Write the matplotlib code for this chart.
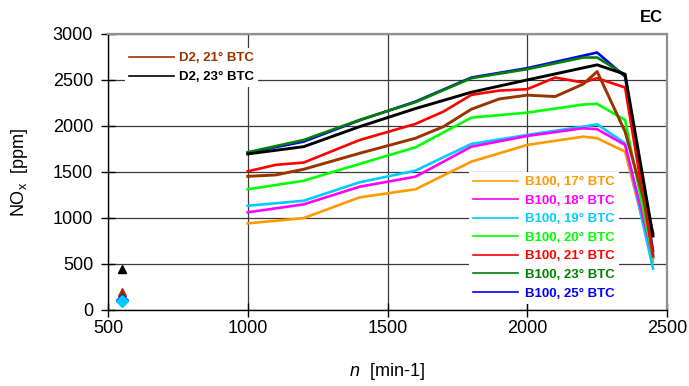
import matplotlib
matplotlib.use('Agg')
import matplotlib.pyplot as plt
from matplotlib.lines import Line2D

plt.rcParams['font.family'] = ['Liberation Sans', 'DejaVu Sans']
plt.rcParams['mathtext.fontset'] = 'custom'
plt.rcParams['mathtext.rm'] = 'Liberation Sans'
plt.rcParams['mathtext.it'] = 'Liberation Sans:italic'
plt.rcParams['mathtext.bf'] = 'Liberation Sans:bold'

# ---------------- data ----------------
d2_21_rpm = [1000, 1100, 1200, 1400, 1600, 1700, 1800, 1900, 2000, 2100, 2200, 2250, 2350, 2450]
d2_21_nox = [1450, 1465, 1527, 1701, 1865, 1991, 2181, 2293, 2334, 2319, 2454, 2591, 1937, 830]

d2_23_rpm = [1000, 1200, 1400, 1600, 1800, 2000, 2250, 2350, 2450]
d2_23_nox = [1694, 1773, 1991, 2188, 2366, 2500, 2664, 2562, 800]

b100_17_rpm = [1000, 1200, 1400, 1600, 1800, 2000, 2200, 2250, 2350, 2450]
b100_17_nox = [938, 995, 1221, 1309, 1610, 1792, 1882, 1865, 1719, 520]

b100_18_rpm = [1000, 1200, 1400, 1600, 1800, 2000, 2200, 2250, 2350, 2450]
b100_18_nox = [1058, 1145, 1337, 1446, 1773, 1890, 1974, 1963, 1792, 570]

b100_19_rpm = [1000, 1200, 1400, 1600, 1800, 2000, 2200, 2250, 2350, 2450]
b100_19_nox = [1130, 1184, 1385, 1512, 1803, 1901, 1991, 2017, 1810, 445]

b100_20_rpm = [1000, 1200, 1400, 1600, 1800, 2000, 2200, 2250, 2350, 2450]
b100_20_nox = [1309, 1402, 1585, 1766, 2089, 2144, 2232, 2239, 2064, 560]

b100_21_rpm = [1000, 1100, 1200, 1400, 1600, 1700, 1800, 1900, 2000, 2100, 2200, 2250, 2350, 2450]
b100_21_nox = [1505, 1575, 1600, 1845, 2021, 2155, 2337, 2384, 2399, 2526, 2471, 2519, 2417, 580]

b100_23_rpm = [1000, 1200, 1400, 1600, 1800, 2000, 2200, 2250, 2350, 2450]
b100_23_nox = [1712, 1846, 2064, 2258, 2519, 2617, 2744, 2744, 2555, 600]

b100_25_rpm = [1000, 1200, 1400, 1600, 1800, 2000, 2250, 2350, 2450]
b100_25_nox = [1708, 1828, 2060, 2264, 2526, 2628, 2798, 2537, 640]

# single points at 550 min-1
idle_rpm = [550]
d2_21_idle = [192]
d2_23_idle = [440]
b100_25_idle = [105]
b100_19_idle = [92]

labels_b100 = ['B100, 17° BTC', 'B100, 18° BTC', 'B100, 19° BTC', 'B100, 20° BTC',
               'B100, 21° BTC', 'B100, 23° BTC', 'B100, 25° BTC']
labels_d2 = ['D2, 21° BTC', 'D2, 23° BTC']

x_ticks = [500, 1000, 1500, 2000, 2500]
y_ticks = [0, 500, 1000, 1500, 2000, 2500, 3000]

# ---------------- style ----------------
c_17 = '#FF9900'
c_18 = '#FF00FF'
c_19 = '#00CCFF'
c_20 = '#00FF00'
c_21 = '#FF0000'
c_23 = '#008000'
c_25 = '#0000FF'
c_d21 = '#993300'
c_d23 = '#000000'

W, H = 689, 386
fig = plt.figure(figsize=(W / 100, H / 100), dpi=100)
ax = fig.add_axes([108 / W, 1 - 309.5 / H, (667 - 108) / W, (309.5 - 34) / H])

lw = 1.9
ax.plot(b100_25_rpm, b100_25_nox, color=c_25, lw=lw, zorder=3)
ax.plot(b100_23_rpm, b100_23_nox, color=c_23, lw=lw, zorder=3)
ax.plot(b100_17_rpm, b100_17_nox, color=c_17, lw=lw, zorder=3)
ax.plot(b100_19_rpm, b100_19_nox, color=c_19, lw=lw, zorder=3)
ax.plot(b100_18_rpm, b100_18_nox, color=c_18, lw=lw, zorder=3)
ax.plot(b100_20_rpm, b100_20_nox, color=c_20, lw=lw, zorder=3)
ax.plot(b100_21_rpm, b100_21_nox, color=c_21, lw=lw, zorder=3)
ax.plot(d2_21_rpm, d2_21_nox, color=c_d21, lw=2.1, zorder=3)
ax.plot(d2_23_rpm, d2_23_nox, color=c_d23, lw=2.1, zorder=3)

ax.plot(idle_rpm, d2_23_idle, marker='^', color=c_d23, ms=6, ls='none', zorder=4)
ax.plot(idle_rpm, d2_21_idle, marker='^', color=c_d21, ms=6, ls='none', zorder=4)
ax.plot(idle_rpm, b100_25_idle, marker='D', color=c_25, ms=6, ls='none', zorder=4)
ax.plot(idle_rpm, b100_19_idle, marker='D', color=c_19, ms=6, ls='none', zorder=4)

ax.set_xlim(500, 2500)
ax.set_ylim(0, 3000)
ax.set_xticks(x_ticks)
ax.set_yticks(y_ticks)
ax.tick_params(axis='both', direction='inout', length=9.4, width=1, labelsize=13, color='black')
ax.tick_params(axis='y', pad=6)
ax.tick_params(axis='x', pad=3)

ax.grid(True, color='#3a3a3a', lw=0.9, zorder=0)
ax.set_axisbelow(True)
for s in ['top', 'right']:
    ax.spines[s].set_color('#909090')
    ax.spines[s].set_linewidth(1.6)
for s in ['left', 'bottom']:
    ax.spines[s].set_color('black')
    ax.spines[s].set_linewidth(1.0)

fig.text(20 / W, 1 - 172 / H, 'NO$_\\mathregular{x}$  [ppm]', rotation=90,
         ha='center', va='center', fontsize=13)
fig.text(387 / W, 1 - 371 / H, '$n$  [min-1]', ha='center', va='center', fontsize=13)
fig.text(663 / W, 1 - 18 / H, 'EC', ha='right', va='center', fontsize=12, fontweight='bold')

# legends
leg_prop = {'family': 'Liberation Sans', 'weight': 'bold', 'size': 9.5}
h_b100 = [Line2D([], [], color=c, lw=1.2) for c in [c_17, c_18, c_19, c_20, c_21, c_23, c_25]]
leg1 = ax.legend(h_b100, labels_b100, loc='upper left', bbox_to_anchor=(469 / W, 1 - 172 / H),
                 bbox_transform=fig.transFigure, prop=leg_prop, labelcolor='linecolor',
                 frameon=True, facecolor='white', edgecolor='none', framealpha=1, fancybox=False,
                 handlelength=3.4, handletextpad=0.55, labelspacing=0.48, borderpad=0.3,
                 borderaxespad=0)
leg1.set_zorder(5)
ax.add_artist(leg1)

h_d2 = [Line2D([], [], color=c, lw=1.2) for c in [c_d21, c_d23]]
leg2 = ax.legend(h_d2, labels_d2, loc='upper left', bbox_to_anchor=(125 / W, 1 - 48 / H),
                 bbox_transform=fig.transFigure, prop=leg_prop, labelcolor='linecolor',
                 frameon=True, facecolor='white', edgecolor='none', framealpha=1, fancybox=False,
                 handlelength=3.4, handletextpad=0.4, labelspacing=0.52, borderpad=0.3,
                 borderaxespad=0)
leg2.set_zorder(5)

fig.savefig('out.png', dpi=100)
